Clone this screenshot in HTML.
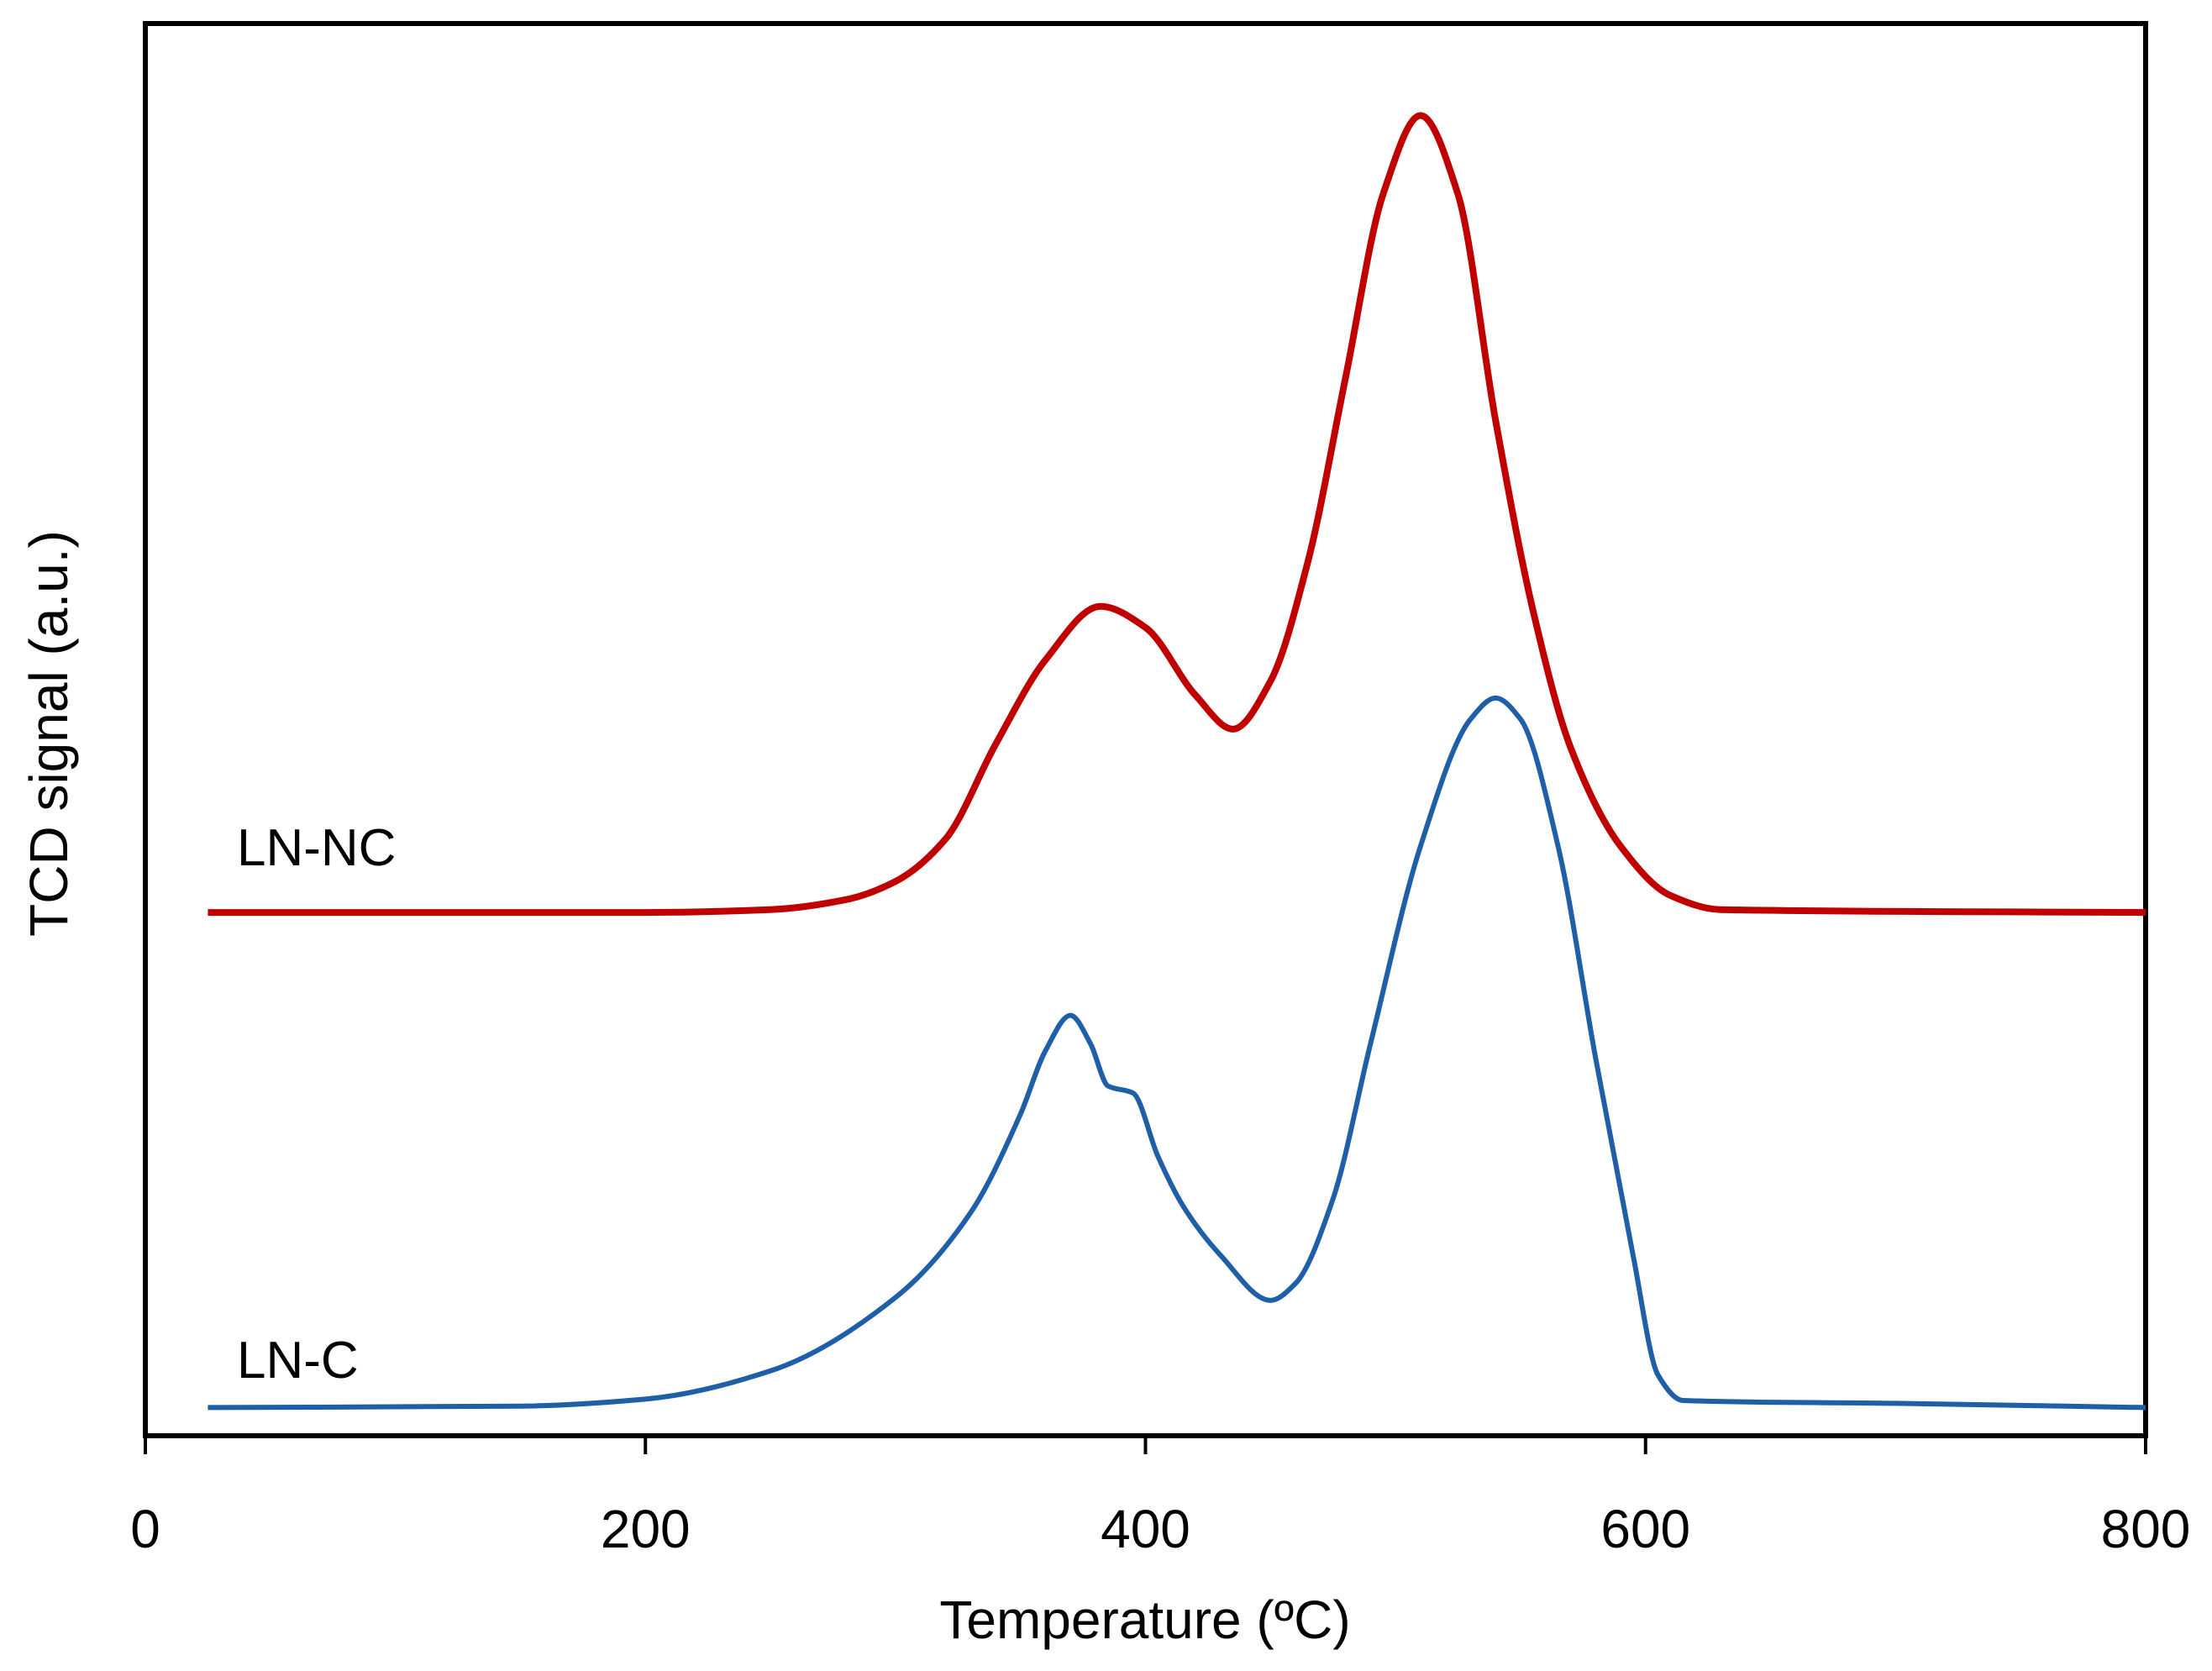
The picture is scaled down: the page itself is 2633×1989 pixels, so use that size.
<!DOCTYPE html>
<html><head><meta charset="utf-8"><style>
html,body{margin:0;padding:0;background:#fff;}
svg{display:block;font-family:"Liberation Sans",Arial,sans-serif;}
</style></head><body>
<svg id="chart" width="2633" height="1989" viewBox="0 0 2633 1989">
<rect x="173" y="28" width="2381" height="1681" fill="none" stroke="#000" stroke-width="6"/>
<g id="xticks"></g>
<g id="series"></g>
<text x="282" y="1030" font-size="62" fill="#000">LN-NC</text>
<text x="282" y="1640" font-size="62" fill="#000">LN-C</text>
<text x="1363" y="1950" font-size="64" text-anchor="middle" fill="#000">Temperature  (ºC)</text>
<text transform="translate(80,873) rotate(-90)" font-size="64" text-anchor="middle" fill="#000">TCD signal (a.u.)</text>
</svg>
<script>
const xTicks=[0,200,400,600,800];
const redT=[25,200,250,280,300,320,340,360,382,400,420,435,450,465,480,495,510,525,540,555,570,590,610,630,800];
const redV=[371,371,373,380,393,423,490,550,588,573,525,501,535,620,750,880,936,880,720,585,488,418,383,373,371];
const blueT=[25,150,200,250,300,330,350,360,370,378,385,395,405,415,430,450,460,475,490,510,530,540,550,565,580,595,605,615,700,800];
const blueV=[20,21,26,46,98,158,228,273,298,278,248,243,198,163,128,96,108,168,278,418,508,523,508,418,268,128,43,25,23,20];
const NS="http://www.w3.org/2000/svg";
const X0=173,X1=2554,Y0=1709,K=1.679;
function sx(t){return X0+(X1-X0)*t/800;}
function sy(v){return Y0-v*K;}
const xg=document.getElementById('xticks');
xTicks.forEach(t=>{
  const l=document.createElementNS(NS,'line');
  l.setAttribute('x1',sx(t));l.setAttribute('x2',sx(t));l.setAttribute('y1',Y0);l.setAttribute('y2',Y0+22);
  l.setAttribute('stroke','#000');l.setAttribute('stroke-width','4');
  
  
  xg.appendChild(l);
  const tx=document.createElementNS(NS,'text');
  tx.setAttribute('x',sx(t));tx.setAttribute('y',1842);tx.setAttribute('font-size','64');tx.setAttribute('text-anchor','middle');
  tx.textContent=t;
  
  
  xg.appendChild(tx);
});
function path(T,V){
  const x=T.map(sx),y=V.map(sy),n=x.length;
  const d=[],m=new Array(n);
  for(let i=0;i<n-1;i++)d.push((y[i+1]-y[i])/(x[i+1]-x[i]));
  m[0]=d[0];m[n-1]=d[n-2];
  for(let i=1;i<n-1;i++){
    if(d[i-1]*d[i]<=0)m[i]=0;
    else{const h0=x[i]-x[i-1],h1=x[i+1]-x[i];const w1=2*h1+h0,w2=h1+2*h0;m[i]=(w1+w2)/(w1/d[i-1]+w2/d[i]);}
  }
  let s='M'+x[0]+','+y[0];
  for(let i=0;i<n-1;i++){
    const h=(x[i+1]-x[i])/3;
    s+=' C'+(x[i]+h)+','+(y[i]+m[i]*h)+' '+(x[i+1]-h)+','+(y[i+1]-m[i+1]*h)+' '+x[i+1]+','+y[i+1];
  }
  return s;
}
const sg=document.getElementById('series');
const r=document.createElementNS(NS,'path');
r.setAttribute('d',path(redT,redV));r.setAttribute('fill','none');r.setAttribute('stroke','#c00000');r.setAttribute('stroke-width','8');r.setAttribute('stroke-linejoin','round');


sg.appendChild(r);
const b=document.createElementNS(NS,'path');
b.setAttribute('d',path(blueT,blueV));b.setAttribute('fill','none');b.setAttribute('stroke','#1f5fa8');b.setAttribute('stroke-width','6');b.setAttribute('stroke-linejoin','round');


sg.appendChild(b);
</script>
</body></html>
